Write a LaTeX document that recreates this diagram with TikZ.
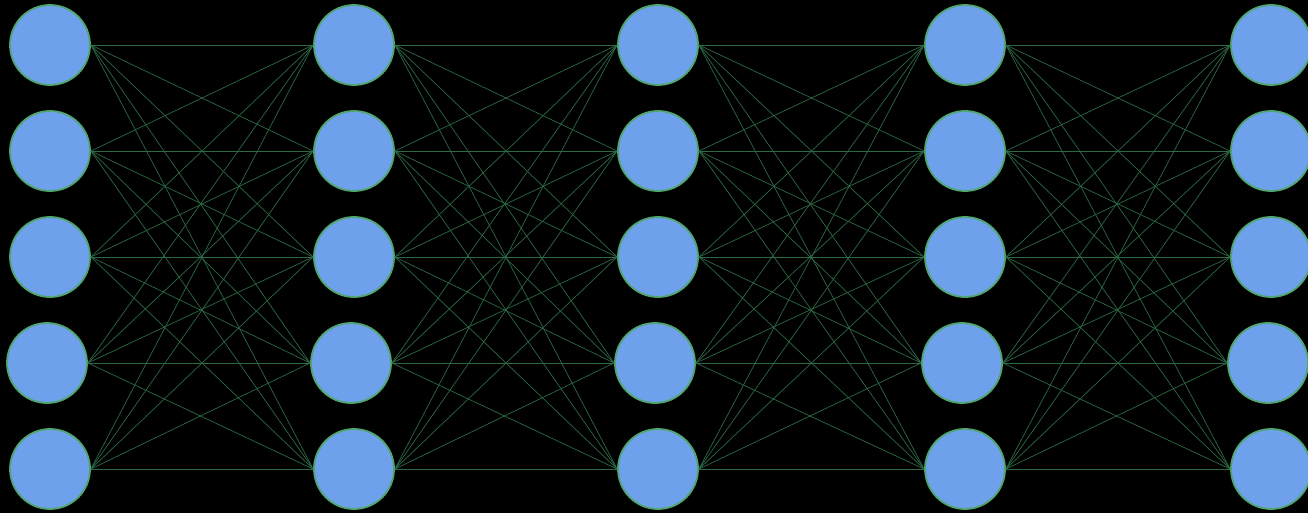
\documentclass[tikz,border=0pt]{standalone}
\usepackage{tikz}
\definecolor{nodefill}{RGB}{111,160,235}
\definecolor{nodeedge}{RGB}{80,165,110}
\definecolor{edgecol}{RGB}{44,105,68}
\begin{document}
\begin{tikzpicture}[x=1pt,y=-1pt,
  neuron/.style={circle,draw=nodeedge,fill=nodefill,line width=1.8pt,minimum size=80pt,inner sep=0pt},
  synapse/.style={draw=edgecol,line width=0.7pt}]
\fill[black] (0,0) rectangle (1308,513);
\useasboundingbox (0,0) rectangle (1308,513);
\foreach \c/\x in {1/50,2/354,3/658,4/965,5/1271}{
  \foreach \r/\y/\dx in {1/45/0,2/151/0,3/257/0,4/363/-3,5/469/0}{
    \node[neuron] (n-\c-\r) at (\x+\dx,\y) {};
  }
}
\foreach \c/\d in {1/2,2/3,3/4,4/5}{
  \foreach \r in {1,...,5}{
    \foreach \s in {1,...,5}{
      \draw[synapse] (n-\c-\r.east) -- (n-\d-\s.west);
    }
  }
}
\end{tikzpicture}
\end{document}
